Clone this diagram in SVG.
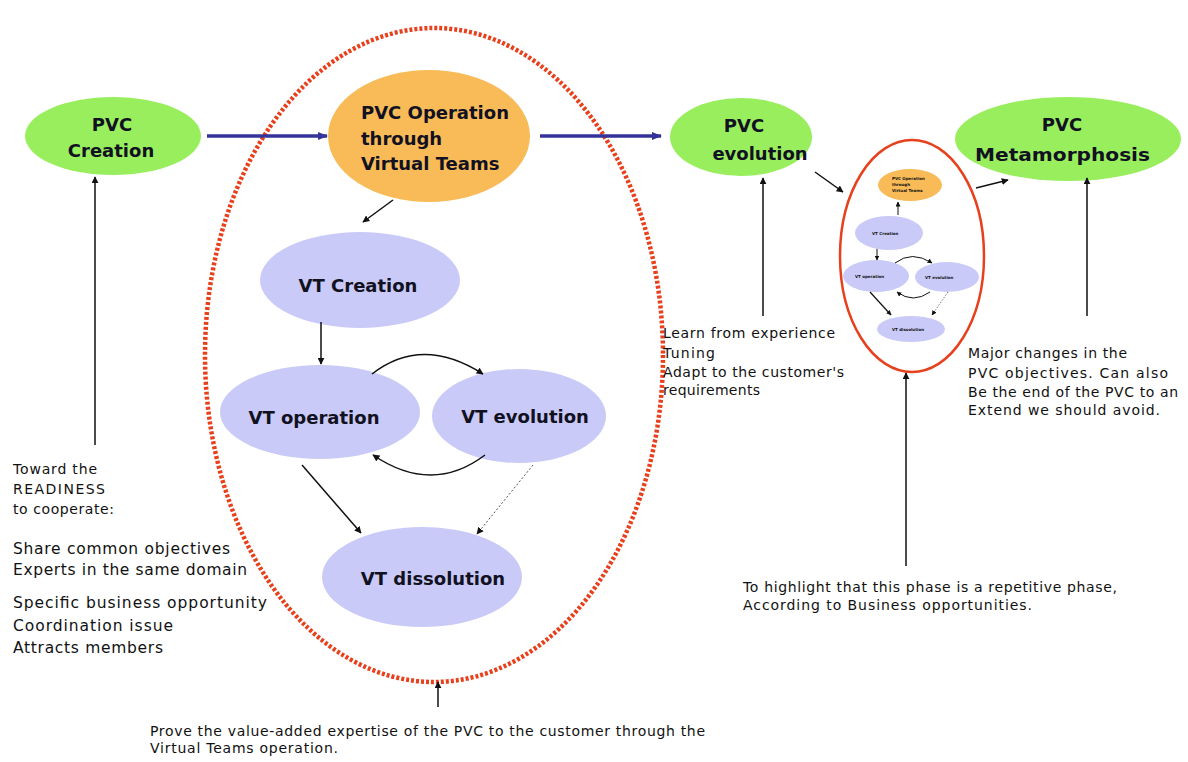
<svg xmlns="http://www.w3.org/2000/svg" width="1188" height="762" viewBox="0 0 1188 762">
<defs>
<style>
.green{fill:#99ee5e;}
.orange{fill:#f8bb58;}
.lav{fill:#c9caf7;}
.lbl{font-family:"DejaVu Sans",Verdana,sans-serif;font-weight:bold;fill:#111122;}
.txt{font-family:"DejaVu Sans",Verdana,sans-serif;fill:#111;}
.blk{stroke:#111;stroke-width:1.5;fill:none;}
.blu{stroke:#333399;stroke-width:3.5;fill:none;}
.tiny{font-family:"DejaVu Sans",sans-serif;font-weight:bold;font-size:4px;fill:#111;}
</style>
<marker id="ah" viewBox="0 0 10 10" refX="9" refY="5" markerWidth="7" markerHeight="7" orient="auto" markerUnits="userSpaceOnUse"><path d="M0,0 L10,5 L0,10 z" fill="#111"/></marker>
<marker id="ahs" viewBox="0 0 10 10" refX="9" refY="5" markerWidth="5" markerHeight="5" orient="auto" markerUnits="userSpaceOnUse"><path d="M0,0 L10,5 L0,10 z" fill="#111"/></marker>
<marker id="ahb" viewBox="0 0 10 10" refX="9" refY="5" markerWidth="10" markerHeight="10" orient="auto" markerUnits="userSpaceOnUse"><path d="M0,1 L10,5 L0,9 z" fill="#333399"/></marker>
</defs>
<rect width="1188" height="762" fill="#fff"/>

<g id="phase-boundary">
<ellipse cx="434" cy="355" rx="229" ry="327" fill="none" stroke="#e8401c" stroke-width="4.5" stroke-dasharray="3 2"/>
</g>

<g id="pvc-creation">
<ellipse class="green" cx="113" cy="136" rx="88" ry="39"/>
<text class="lbl" font-size="18" text-anchor="middle" x="112" y="131">PVC</text>
<text class="lbl" font-size="18" text-anchor="middle" x="111" y="157">Creation</text>
</g>

<g id="pvc-operation">
<ellipse class="orange" cx="429" cy="136" rx="101" ry="66"/>
<text class="lbl" font-size="18" x="361" y="119">PVC Operation</text>
<text class="lbl" font-size="18" x="361" y="145">through</text>
<text class="lbl" font-size="18" x="361" y="170">Virtual Teams</text>
</g>

<g id="vt-creation">
<ellipse class="lav" cx="360" cy="280" rx="100" ry="48"/>
<text class="lbl" font-size="18" text-anchor="middle" x="358" y="292">VT Creation</text>
</g>

<g id="vt-operation">
<ellipse class="lav" cx="320" cy="412" rx="100" ry="47"/>
<text class="lbl" font-size="18" text-anchor="middle" x="314" y="424">VT operation</text>
</g>

<g id="vt-evolution">
<ellipse class="lav" cx="519" cy="416" rx="87" ry="47"/>
<text class="lbl" font-size="18" text-anchor="middle" x="525" y="423">VT evolution</text>
</g>

<g id="vt-dissolution">
<ellipse class="lav" cx="422" cy="577" rx="100" ry="50"/>
<text class="lbl" font-size="18" text-anchor="middle" x="433" y="585">VT dissolution</text>
</g>

<g id="pvc-evolution">
<ellipse class="green" cx="741" cy="137" rx="71" ry="39"/>
<text class="lbl" font-size="18" text-anchor="middle" x="744" y="132">PVC</text>
<text class="lbl" font-size="18" text-anchor="middle" x="760" y="160">evolution</text>
</g>

<g id="pvc-metamorphosis">
<ellipse class="green" cx="1068" cy="139" rx="113" ry="42"/>
<text class="lbl" font-size="18" text-anchor="middle" x="1062" y="131">PVC</text>
<text class="lbl" font-size="18" x="975" y="161" textLength="175" lengthAdjust="spacingAndGlyphs">Metamorphosis</text>
</g>

<g id="repetitive-phase">
<ellipse cx="912" cy="256" rx="72" ry="116" fill="none" stroke="#e8401c" stroke-width="2.5"/>
<ellipse class="orange" cx="910" cy="185" rx="32" ry="16"/>
<text class="tiny" x="892" y="180">PVC Operation</text>
<text class="tiny" x="892" y="186">through</text>
<text class="tiny" x="892" y="192">Virtual Teams</text>
<ellipse class="lav" cx="889" cy="233" rx="34" ry="17"/>
<text class="tiny" x="872" y="235">VT Creation</text>
<ellipse class="lav" cx="876" cy="276" rx="33" ry="16"/>
<text class="tiny" x="855" y="278">VT operation</text>
<ellipse class="lav" cx="947" cy="277" rx="32" ry="15"/>
<text class="tiny" x="925" y="279">VT evolution</text>
<ellipse class="lav" cx="911" cy="329" rx="34" ry="13"/>
<text class="tiny" x="892" y="331">VT dissolution</text>
</g>

<g id="connectors">
<line class="blu" x1="207" y1="136" x2="327" y2="136" marker-end="url(#ahb)"/>
<line class="blu" x1="540" y1="136" x2="661" y2="136" marker-end="url(#ahb)"/>
<line class="blk" x1="393" y1="200" x2="363" y2="222" marker-end="url(#ah)"/>
<line class="blk" x1="321" y1="322" x2="321" y2="364" marker-end="url(#ah)"/>
<path class="blk" d="M372,374 Q422,335 483,374" marker-end="url(#ah)"/>
<path class="blk" d="M485,455 Q432,495 373,455" marker-end="url(#ah)"/>
<line class="blk" x1="302" y1="465" x2="361" y2="533" marker-end="url(#ah)"/>
<line x1="533" y1="465" x2="477" y2="534" stroke="#555" stroke-width="1" stroke-dasharray="2 2" marker-end="url(#ah)"/>
<line class="blk" x1="815" y1="172" x2="843" y2="192" marker-end="url(#ah)"/>
<line class="blk" x1="976" y1="188" x2="1008" y2="180" marker-end="url(#ah)"/>
<line x1="898" y1="215" x2="898" y2="202" stroke="#111" stroke-width="1" marker-end="url(#ahs)"/>
<line x1="877" y1="249" x2="877" y2="260" stroke="#111" stroke-width="1" marker-end="url(#ahs)"/>
<path d="M895,263 Q912,250 932,263" fill="none" stroke="#111" stroke-width="1" marker-end="url(#ahs)"/>
<path d="M930,292 Q913,304 897,292" fill="none" stroke="#111" stroke-width="1" marker-end="url(#ahs)"/>
<line x1="870" y1="292" x2="891" y2="315" stroke="#111" stroke-width="1.2" marker-end="url(#ahs)"/>
<line x1="948" y1="292" x2="932" y2="315" stroke="#555" stroke-width="0.8" stroke-dasharray="1.5 1.5" marker-end="url(#ahs)"/>
<line class="blk" x1="95" y1="445" x2="95" y2="177" marker-end="url(#ah)"/>
<line class="blk" x1="763" y1="316" x2="763" y2="178" marker-end="url(#ah)"/>
<line class="blk" x1="1087" y1="316" x2="1087" y2="178" marker-end="url(#ah)"/>
<line class="blk" x1="906" y1="566" x2="906" y2="373" marker-end="url(#ah)"/>
<line class="blk" x1="438" y1="707" x2="438" y2="682" marker-end="url(#ah)"/>
</g>

<g id="notes">
<text class="txt" font-size="14"><tspan x="13" y="474" textLength="84">Toward the</tspan><tspan x="13" y="494" textLength="92">READINESS</tspan><tspan x="13" y="514" textLength="101">to cooperate:</tspan></text>
<text class="txt" font-size="15.5"><tspan x="13" y="554" textLength="217">Share common objectives</tspan><tspan x="13" y="575" textLength="234">Experts in the same domain</tspan><tspan x="13" y="608" textLength="254">Specific business opportunity</tspan><tspan x="13" y="631" textLength="160">Coordination issue</tspan><tspan x="13" y="653" textLength="150">Attracts members</tspan></text>
<text class="txt" font-size="14"><tspan x="663" y="338" textLength="172">Learn from experience</tspan><tspan x="663" y="358" textLength="52">Tuning</tspan><tspan x="663" y="377" textLength="181">Adapt to the customer's</tspan><tspan x="663" y="395" textLength="97">requirements</tspan></text>
<text class="txt" font-size="14"><tspan x="968" y="358" textLength="159">Major changes in the</tspan><tspan x="968" y="378" textLength="200">PVC objectives. Can also</tspan><tspan x="968" y="397" textLength="210">Be the end of the PVC to an</tspan><tspan x="968" y="415" textLength="192">Extend we should avoid.</tspan></text>
<text class="txt" font-size="14"><tspan x="743" y="592" textLength="374">To highlight that this phase is a repetitive phase,</tspan><tspan x="743" y="610" textLength="289">According to Business opportunities.</tspan></text>
<text class="txt" font-size="14"><tspan x="150" y="736" textLength="555">Prove the value-added expertise of the PVC to the customer  through the</tspan><tspan x="150" y="753" textLength="188">Virtual Teams operation.</tspan></text>
</g>
</svg>
